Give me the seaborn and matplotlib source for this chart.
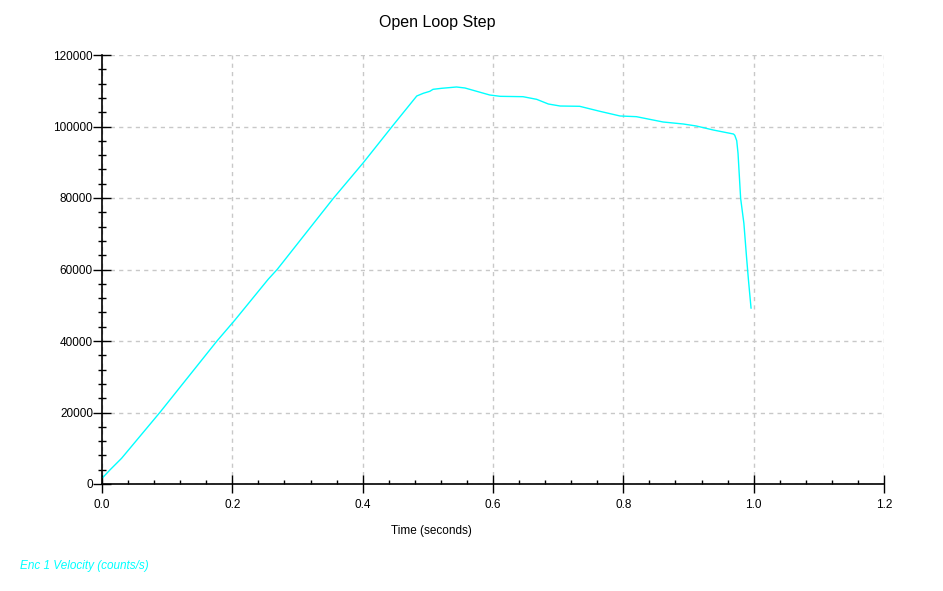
import pandas as pd
import matplotlib
matplotlib.use("Agg")
import matplotlib.pyplot as plt
from matplotlib.ticker import MultipleLocator
import seaborn as sns

# values
time_s = [0.001, 0.012, 0.030, 0.089, 0.176, 0.204, 0.255, 0.269, 0.355,
          0.401, 0.447, 0.483, 0.493, 0.503, 0.508, 0.521, 0.544, 0.557, 0.595,
          0.611, 0.646, 0.667, 0.685, 0.703, 0.733, 0.764, 0.795, 0.820, 0.861,
          0.892, 0.912, 0.938, 0.969, 0.971, 0.974, 0.976, 0.980, 0.985, 0.989,
          0.992, 0.996]
velocity = [1770, 3900, 7180, 20060, 39910, 45870, 57260, 60050, 79910,
            89880, 100420, 108530, 109290, 109840, 110400, 110680, 111050, 110770, 108810,
            108440, 108340, 107600, 106290, 105730, 105650, 104250, 102940, 102750, 101260,
            100700, 100140, 99020, 97900, 97540, 96030, 92500, 79900, 72900, 63600,
            57060, 49150]

df = pd.DataFrame({'Time': time_s, 'Velocity': velocity})

sns.set_style('white')
plt.rcParams['font.family'] = ['Liberation Sans', 'DejaVu Sans']
plt.rcParams['text.color'] = 'black'

fig = plt.figure(figsize=(9.43, 5.91), dpi=100)
ax = fig.add_axes([102/943, 107/591, 782/943, 429/591])

sns.lineplot(data=df, x='Time', y='Velocity', color='#00FFFF', linewidth=1, ax=ax)

ax.set_xlim(0, 1.2)
ax.set_ylim(0, 120000)
ax.xaxis.set_major_locator(MultipleLocator(0.2))
ax.xaxis.set_minor_locator(MultipleLocator(0.04))
ax.yaxis.set_major_locator(MultipleLocator(20000))
ax.yaxis.set_minor_locator(MultipleLocator(4000))

ax.grid(True, which='major', color='#c8c8c8', linestyle=(0, (3, 3)), linewidth=1)
ax.set_axisbelow(True)
for side in ['top', 'right']:
    ax.spines[side].set_visible(False)
for side in ['left', 'bottom']:
    ax.spines[side].set_color('black')
    ax.spines[side].set_linewidth(1.2)

ax.tick_params(axis='both', which='both', bottom=True, left=True, top=False, right=False)
ax.tick_params(axis='both', which='major', direction='inout', length=13, width=1,
               color='black', labelsize=8.5, labelcolor='black')
ax.tick_params(axis='y', which='major', pad=0)
ax.tick_params(axis='x', which='major', pad=4)
ax.tick_params(axis='y', which='minor', direction='inout', length=6, width=1, color='black')
ax.tick_params(axis='x', which='minor', direction='in', length=3, width=1, color='black')

ax.set_xlabel('')
ax.set_ylabel('')

fig.text(437/943, 1 - 22/591, 'Open Loop Step', ha='center', va='center',
         fontsize=11.5, color='black')
fig.text(431/943, 1 - 531/591, 'Time (seconds)', ha='center', va='center',
         fontsize=8.5, color='black')
fig.text(20/943, 1 - 566/591, 'Enc 1 Velocity (counts/s)', ha='left', va='center',
         fontsize=8.5, style='italic', color='#00FFFF')

fig.savefig('out.png', dpi=100)
